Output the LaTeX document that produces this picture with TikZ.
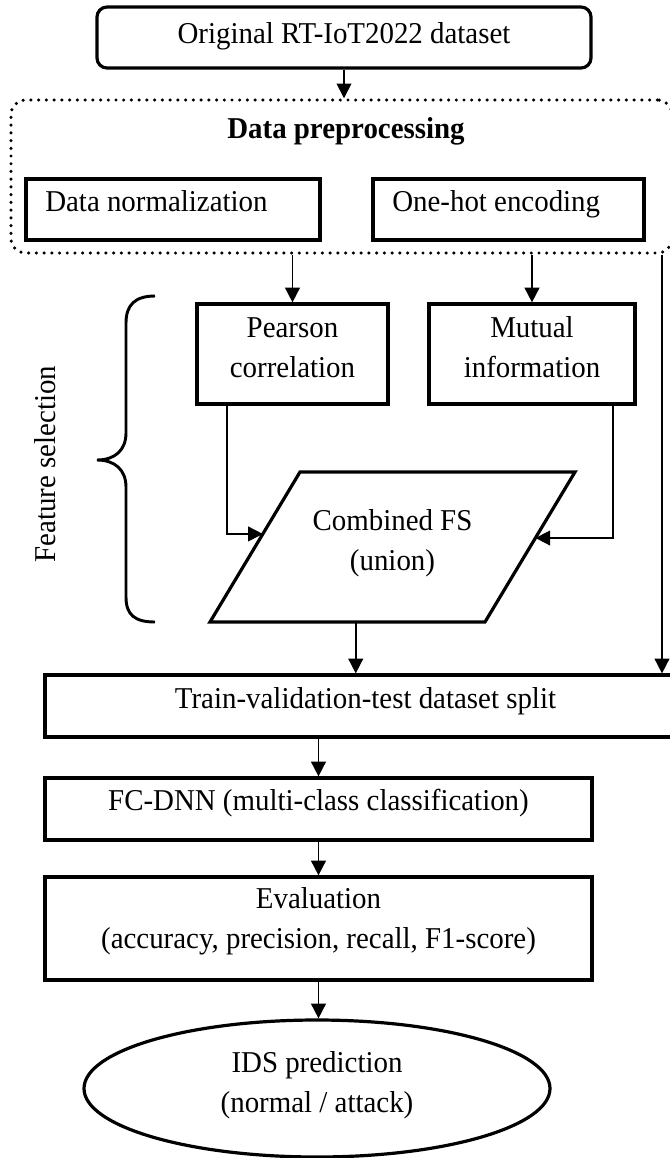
\documentclass[tikz,border=0pt]{standalone}
\usepackage{fontspec}
\setmainfont{Liberation Serif}[FakeStretch=0.955]
\usetikzlibrary{arrows.meta,shapes.geometric,calc}

\begin{document}
\begin{tikzpicture}[x=0.75pt,y=-0.75pt,
  box/.style={draw, line width=2.4pt, inner sep=0pt},
  txt/.style={font=\fontsize{22.7pt}{30pt}\selectfont, inner sep=0pt, align=center},
  arr/.style={line width=1.25pt, -{Triangle[length=11pt,width=11pt]}},
]
\useasboundingbox (0,0) rectangle (670,1158);
\clip (0,0) rectangle (670,1158);

% source data
\node[box, rounded corners=7.5pt, minimum width=370.5pt, minimum height=45.75pt] (orig) at (344,37.5) {};
\node[txt, anchor=base] at (344,43) {Original RT-IoT2022 dataset};

% preprocessing group
\node[draw, line width=2.6pt, dash pattern=on 0pt off 5.8pt, line cap=round,
      rounded corners=11pt, inner sep=0pt,
      minimum width=495.75pt, minimum height=114.75pt] (prep) at (341.5,176.5) {};
\node[txt, anchor=base] at (346,138) {\bfseries Data preprocessing};
\node[box, minimum width=220.5pt, minimum height=45.75pt] (norm) at (173,209.5) {};
\node[txt, anchor=base west] at (45,211) {Data normalization};
\node[box, minimum width=203.25pt, minimum height=45.75pt] (onehot) at (508.5,209.5) {};
\node[txt, anchor=base west] at (392,211) {One-hot encoding};

% feature selection
\node[box, minimum width=143.25pt, minimum height=75pt] (pear) at (292.5,354) {};
\node[txt, anchor=base] at (292.5,377) {Pearson\\correlation};
\node[box, minimum width=154.5pt, minimum height=75pt] (mutual) at (532,354) {};
\node[txt, anchor=base] at (532,377) {Mutual\\information};

\draw[line width=2.4pt] (300,472) coordinate (cTL) -- (575,472) coordinate (cTR)
  -- (485,622) coordinate (cBR) -- (210,622) coordinate (cBL) -- cycle;
\node[txt, anchor=base] (comb) at (392.5,570) {Combined FS\\(union)};
\coordinate (combL) at ($(cTL)!0.413!(cBL)$);
\coordinate (combR) at ($(cTR)!0.44!(cBR)$);
\coordinate (combS) at ($(cBL)!0.53!(cBR)$);

% brace and its label
\draw[line width=2.2pt] (155,296) .. controls (135,296) and (126,305) .. (126,323)
  -- (126,433) .. controls (126,450) and (115,460) .. (97,460)
  .. controls (115,460) and (126,470) .. (126,487)
  -- (126,597) .. controls (126,615) and (135,622) .. (155,622);
\node[txt, rotate=90] (fslabel) at (45,464) {Feature selection};

% model pipeline
\node[box, minimum width=480.75pt, minimum height=46.5pt] (train) at (365.5,706) {};
\node[txt, anchor=base] at (365.5,708) {Train-validation-test dataset split};
\node[box, minimum width=410.25pt, minimum height=46.5pt] (fc) at (318.5,809) {};
\node[txt, anchor=base] at (318.5,810) {FC-DNN (multi-class classification)};
\node[box, minimum width=410.25pt, minimum height=77.25pt] (eval) at (318.5,928.5) {};
\node[txt, anchor=base] at (318.5,948) {Evaluation\\(accuracy, precision, recall, F1-score)};
\node[box, ellipse, minimum width=349.5pt, minimum height=102.75pt] (ids) at (317,1088.5) {};
\node[txt, anchor=base] at (317,1112) {IDS prediction\\(normal / attack)};

% connectors
\draw[arr] (orig.south) -- (orig.south |- prep.north);
\draw[arr] (prep.south -| pear.north) -- (pear.north);
\draw[arr] (prep.south -| mutual.north) -- (mutual.north);
\draw[arr] (prep.south -| 662,0) -- (662,0 |- train.north);
\draw[arr] (pear.south -| 227,0) |- (combL);
\draw[arr] (mutual.south -| 613,0) |- (combR);
\draw[arr] (combS) -- (combS |- train.north);
\draw[arr] (train.south -| fc.north) -- (fc.north);
\draw[arr] (fc.south) -- (eval.north);
\draw[arr] (eval.south) -- (eval.south |- ids.north);
\end{tikzpicture}
\end{document}
